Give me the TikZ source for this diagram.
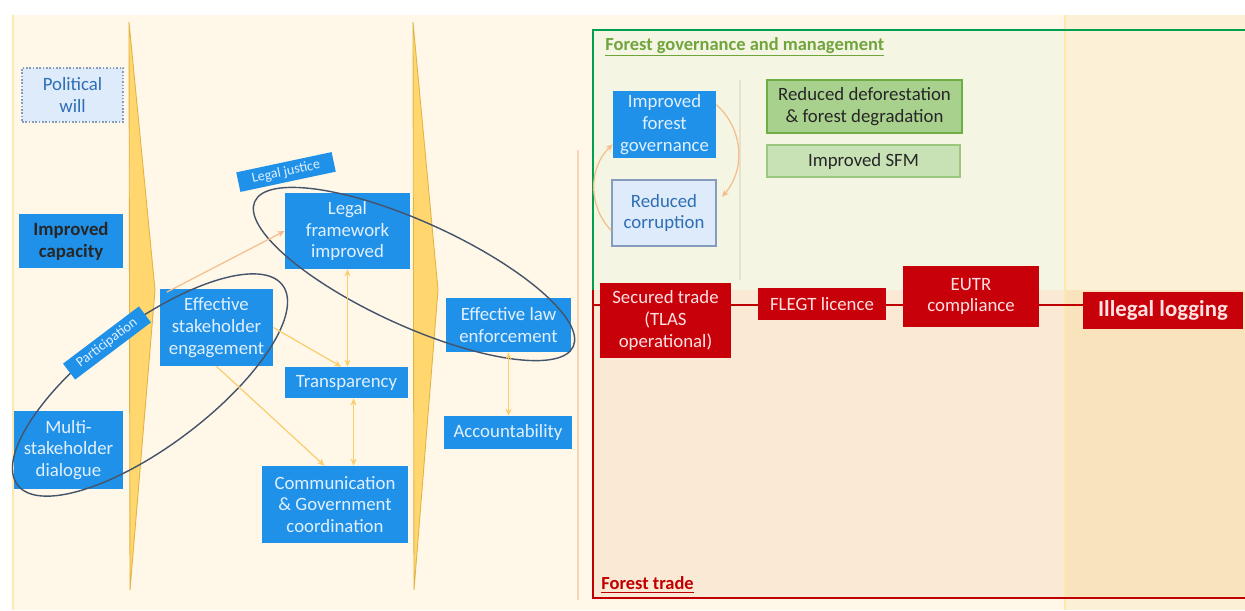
\documentclass[tikz,border=0pt]{standalone}
\usepackage{fontspec}
\setmainfont{Carlito}
\usetikzlibrary{arrows.meta}
\definecolor{cream}{RGB}{255,247,232}
\definecolor{govfill}{RGB}{245,245,228}
\definecolor{tradefill}{RGB}{250,233,212}
\definecolor{rightup}{RGB}{252,240,214}
\definecolor{rightlow}{RGB}{248,227,188}
\definecolor{vline}{RGB}{255,232,175}
\definecolor{cblue}{RGB}{32,145,232}
\definecolor{cpale}{RGB}{225,240,255}
\definecolor{clight}{RGB}{222,235,250}
\definecolor{cgrayblue}{RGB}{135,155,190}
\definecolor{cdblue}{RGB}{46,110,180}
\definecolor{cred}{RGB}{200,0,10}
\definecolor{cpink}{RGB}{255,225,225}
\definecolor{cgreen}{RGB}{169,209,142}
\definecolor{cgreenb}{RGB}{112,173,71}
\definecolor{cgreenl}{RGB}{200,226,182}
\definecolor{gborder}{RGB}{0,160,80}
\definecolor{rborder}{RGB}{192,0,0}
\definecolor{tri}{RGB}{255,215,110}
\definecolor{trib}{RGB}{225,180,70}
\definecolor{ell}{RGB}{68,84,106}
\definecolor{oar}{RGB}{244,190,140}
\definecolor{yar}{RGB}{250,205,110}
\definecolor{olive}{RGB}{112,165,60}
\definecolor{faintpeach}{RGB}{248,215,185}
\definecolor{faintgrey}{RGB}{232,226,205}
\newcommand{\mybox}[7]{\node[#6, minimum width={(#4-#2)*0.02cm}, minimum height={(#5-#3)*0.02cm}] (#1) at ({(#2+#4)/2},{(#3+#5)/2}) {#7};}
\begin{document}
\begin{tikzpicture}[x=0.02cm,y=-0.02cm,
  box/.style={rectangle, inner sep=1pt, align=center, font=\fontsize{10.7}{12.4}\selectfont},
  bluebox/.style={box, fill=cblue, text=cpale},
  lightbox/.style={box, fill=clight, draw=cgrayblue, line width=0.8pt, text=cdblue},
  redbox/.style={box, fill=cred, text=cpink},
  greenbox/.style={box, fill=cgreen, draw=cgreenb, line width=0.6pt, text=black!85},
  tagbox/.style={rectangle, fill=cblue, text=cpale, inner sep=1pt, align=center, font=\fontsize{8}{9}\selectfont, minimum height=0.4cm},
  oarrow/.style={draw=oar, line width=0.7pt, -{Stealth[length=4pt,width=3.5pt]}},
  yarrow/.style={draw=yar, line width=0.7pt, {Stealth[length=4pt,width=3.5pt]}-{Stealth[length=4pt,width=3.5pt]}},
  redline/.style={draw=rborder, line width=1.6pt},
  ellipsestyle/.style={draw=ell, line width=0.8pt},
  chevron/.style={fill=tri, draw=trib, line width=0.5pt}]
\useasboundingbox (0,0) rectangle (1245,610);
% backgrounds
\fill[white] (0,0) rectangle (1245,610);
\fill[cream] (13,15) rectangle (1245,610);
\fill[govfill] (593,30) rectangle (1065,290);
\fill[tradefill] (593,290) rectangle (1065,598);
\fill[rightup] (1065,15) rectangle (1245,290);
\fill[rightlow] (1065,290) rectangle (1245,598);
\fill[rightup] (1065,598) rectangle (1245,610);
\draw[vline, line width=1.5pt] (13,15) -- (13,610);
\draw[vline, line width=1.5pt] (1065,15) -- (1065,610);
\draw[faintpeach, line width=0.6pt] (578,150) -- (578,600);
\draw[faintgrey, line width=0.6pt] (740,80) -- (740,280);
% chevrons
\filldraw[chevron] (129,22) -- (155,290) -- (130,590) -- cycle;
\filldraw[chevron] (413,22) -- (438,290) -- (414,590) -- cycle;
% section borders
\draw[draw=gborder, line width=1.5pt] (593,290) -- (593,30) -- (1245,30);
\draw[draw=rborder, line width=1.5pt] (593,290) -- (593,598) -- (1245,598);
\node[anchor=west, inner sep=0pt, text=olive, font=\fontsize{10.5}{12}\selectfont\bfseries] (fgm) at (605,47) {\underline{Forest governance and management}};
\node[anchor=west, inner sep=0pt, text=rborder, font=\fontsize{10.5}{12}\selectfont\bfseries] (ft) at (601,585) {\underline{Forest trade}};
% nodes
\mybox{pw}{22}{68}{123}{122}{box, fill=clight, draw=cgrayblue, densely dotted, line width=0.9pt, text=cdblue}{Political\\will}
\mybox{ic}{19}{214}{123}{268}{box, fill=cblue, text=black!85, font=\fontsize{10.7}{12.4}\selectfont\bfseries}{Improved\\capacity}
\mybox{msd}{14}{411}{123}{489}{bluebox}{Multi-\\stakeholder\\dialogue}
\mybox{ese}{160}{289}{273}{366}{bluebox}{Effective\\stakeholder\\engagement}
\mybox{lfi}{285}{193}{410}{269}{bluebox}{Legal\\framework\\improved}
\mybox{tr}{285}{367}{408}{398}{bluebox}{Transparency}
\mybox{cgc}{262}{466}{408}{543}{bluebox}{Communication\\\& Government\\coordination}
\mybox{ele}{446}{298}{571}{352}{bluebox}{Effective law\\enforcement}
\mybox{acc}{444}{416}{572}{449}{bluebox}{Accountability}
\mybox{ifg}{613}{91}{716}{158}{bluebox}{Improved\\forest\\governance}
\mybox{rc}{612}{180}{716}{246}{lightbox}{Reduced\\corruption}
\mybox{rdf}{767}{80}{962}{133}{greenbox}{Reduced deforestation\\\& forest degradation}
\mybox{sfm}{767}{145}{960}{177}{greenbox, fill=cgreenl, draw=cgreenb!70}{Improved SFM}
\mybox{st}{600}{283}{731}{358}{redbox}{Secured trade\\(TLAS\\operational)}
\mybox{fl}{758}{288}{886}{320}{redbox}{FLEGT licence}
\mybox{eutr}{903}{266}{1039}{327}{redbox}{EUTR\\compliance}
\mybox{il}{1083}{292}{1243}{329}{redbox, font=\fontsize{13}{15}\selectfont\bfseries}{Illegal logging}
% ellipses
\draw[ellipsestyle, rotate around={37:(150,385)}] (150,385) ellipse [x radius=3.32cm, y radius=1.22cm];
\draw[ellipsestyle, rotate around={-24.5:(414,274)}] (414,274) ellipse [x radius=3.5cm, y radius=1.04cm];
\node[tagbox, minimum width=1.95cm, rotate=12] (lj) at (286,172) {Legal justice};
\node[tagbox, minimum width=1.9cm, rotate=37] (part) at (107,343) {Participation};
% orange connectors
\draw[oarrow] ([xshift=4pt,yshift=-2pt]ese.north west) -- (lfi.west);
\draw[oarrow, draw=yar] (ese.east) -- ([xshift=-3pt]tr.north);
\draw[oarrow, draw=yar] (ese.south) -- ([xshift=-6pt]cgc.north);
\draw[yarrow] (lfi.south) -- (lfi.south |- tr.north);
\draw[yarrow] ([xshift=4pt]tr.south) -- ([xshift=4pt]tr.south |- cgc.north);
\draw[yarrow] (ele.south) -- (ele.south |- acc.north);
\draw[oarrow] ([yshift=-10pt]rc.west) to[bend left=45] ([yshift=8pt]ifg.south west);
\draw[oarrow] ([yshift=-8pt]ifg.north east) to[bend left=45] ([xshift=3pt, yshift=-10pt]rc.north east);
% red chain
\coordinate (tl) at (593,305);
\draw[redline] (tl) -- (tl -| st.west);
\draw[redline] (st.east |- tl) -- (fl.west |- tl);
\draw[redline] (fl.east |- tl) -- (eutr.west |- tl);
\draw[redline] (eutr.east |- tl) -- (il.west |- tl);
\end{tikzpicture}
\end{document}
